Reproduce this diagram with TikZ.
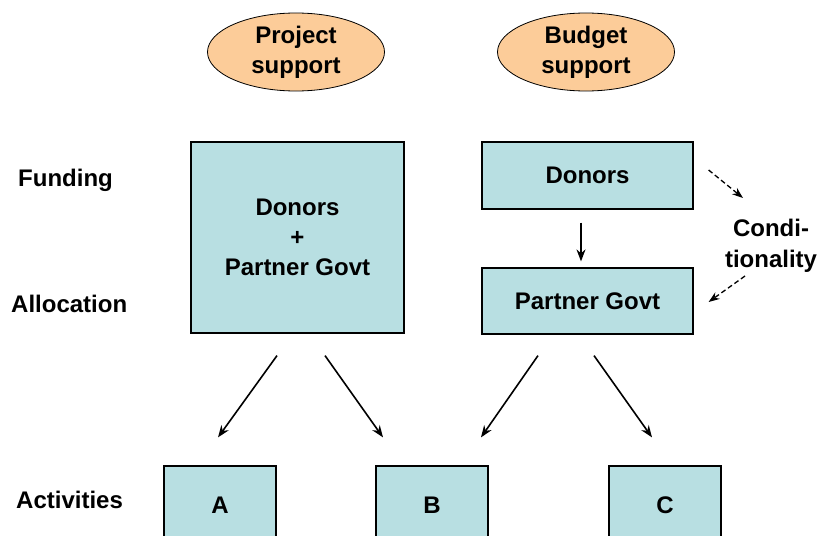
\documentclass[tikz,border=0pt]{standalone}
\usepackage{fontspec}
\setmainfont{Liberation Sans}
\usepackage{tikz}
\usetikzlibrary{arrows.meta,shapes.geometric}
\definecolor{boxblue}{RGB}{184,223,226}
\definecolor{peach}{RGB}{252,204,153}

\begin{document}
\begin{tikzpicture}[x=1pt,y=-1pt,
	font=\fontsize{24}{30}\selectfont\bfseries,
	box/.style={draw,line width=1.2pt,fill=boxblue,inner sep=0pt,align=center},
	oval/.style={ellipse,draw,line width=0.8pt,fill=peach,inner sep=0pt,align=center,minimum width=177pt,minimum height=78pt},
	lbl/.style={anchor=west,inner sep=0pt},
	arr/.style={line width=1.6pt,-{Stealth[length=12pt,width=9pt]}},
	darr/.style={line width=1.3pt,-{Stealth[length=11pt,width=8pt]},dash pattern=on 5pt off 3pt}]
	
	\useasboundingbox (0,0) rectangle (821,535);
	\clip (0,0) rectangle (821,535);
	
	\node[oval] (proj) at (296,52) {Project\\support};
	\node[oval] (budg) at (586,52) {Budget\\support};
	
	\node[lbl] (fund) at (18,180) {Funding};
	\node[lbl] (alloc) at (11,304) {Allocation};
	\node[lbl] (act) at (16,500) {Activities};
	
	\node[box,minimum width=213pt,minimum height=191pt] (both) at (297.5,237.5) {Donors\\+\\Partner Govt};
	\node[box,minimum width=211pt,minimum height=67pt] (don) at (587.5,175.5) {Donors};
	\node[box,minimum width=211pt,minimum height=66pt] (gov) at (587.5,301) {Partner Govt};
	\node[align=center,font=\fontsize{24}{31}\selectfont\bfseries] (cond) at (771,246) {Condi-\\tionality};
	
	% the lower boxes run past the bottom edge
	\node[box,minimum width=112pt,minimum height=78pt] (A) at (220,505) {A};
	\node[box,minimum width=112pt,minimum height=78pt] (B) at (432,505) {B};
	\node[box,minimum width=112pt,minimum height=78pt] (C) at (665,505) {C};
	
	\draw[arr] ([yshift=-13pt,xshift=-6.5pt]don.south) -- ([yshift=6pt,xshift=-6.5pt]gov.north);
	\draw[darr] ([xshift=15pt,yshift=5.5pt]don.east) -- ([xshift=-28pt,yshift=48pt]cond.center);
	\draw[darr] ([xshift=-26pt,yshift=-30pt]cond.center) -- ([xshift=15pt,yshift=-1pt]gov.east);
	
	\draw[arr] ([xshift=-20.5pt,yshift=-22pt]both.south) -- ([xshift=-2pt,yshift=28pt]A.north);
	\draw[arr] ([xshift=27.5pt,yshift=-22pt]both.south) -- ([xshift=-49pt,yshift=28pt]B.north);
	\draw[arr] ([xshift=-49.5pt,yshift=-21pt]gov.south) -- ([xshift=49pt,yshift=28pt]B.north);
	\draw[arr] ([xshift=6.5pt,yshift=-21pt]gov.south) -- ([xshift=-13pt,yshift=28pt]C.north);
	
\end{tikzpicture}
\end{document}
